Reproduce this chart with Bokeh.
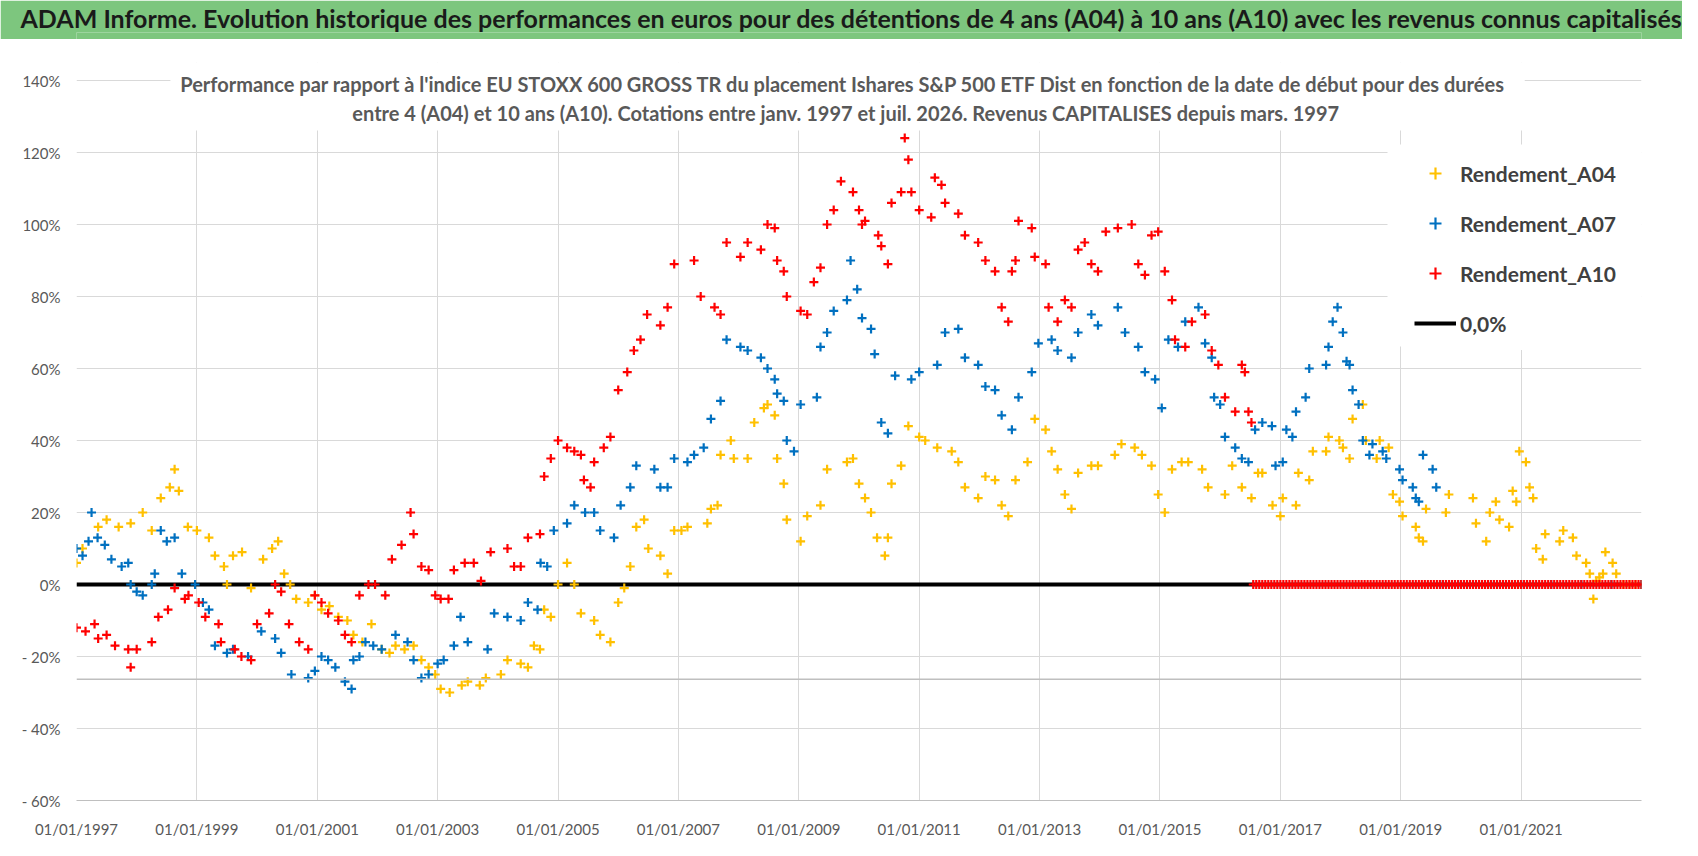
from bokeh.plotting import figure
from bokeh.models import Range1d, FixedTicker, Label, BoxAnnotation, Span, Legend, LegendItem, Title
from bokeh.layouts import column
from bokeh.embed import file_html
from bokeh.resources import INLINE

FONT = "Lato"

title_text = ("ADAM Informe. Evolution historique des performances en euros pour des détentions "
              "de 4 ans (A04) à 10 ans (A10) avec les revenus connus capitalisés")
subtitle_1 = ("Performance par rapport à l'indice EU STOXX 600 GROSS TR  du placement Ishares S&P 500 ETF Dist "
              "en fonction de la date de début pour des durées")
subtitle_2 = ("entre 4 (A04) et 10 ans (A10). Cotations entre janv. 1997 et juil. 2026. "
              "Revenus CAPITALISES depuis mars. 1997")

series_names = ["Rendement_A04", "Rendement_A07", "Rendement_A10"]
series_colors = ["#FFC000", "#0070C0", "#FF0000"]
zero_label = "0,0%"

x_tick_years = [1997, 1999, 2001, 2003, 2005, 2007, 2009, 2011, 2013, 2015, 2017, 2019, 2021]
x_tick_labels = ["01/01/1997", "01/01/1999", "01/01/2001", "01/01/2003", "01/01/2005", "01/01/2007",
                 "01/01/2009", "01/01/2011", "01/01/2013", "01/01/2015", "01/01/2017", "01/01/2019",
                 "01/01/2021"]
y_ticks = [-60, -40, -20, 0, 20, 40, 60, 80, 100, 120, 140]
y_tick_labels = ["- 60%", "- 40%", "- 20%", "0%", "20%", "40%", "60%", "80%", "100%", "120%", "140%"]

# (date as decimal year, performance in %)
a04 = [(1997.0, 6), (1997.1, 10), (1997.36, 16), (1997.5, 18), (1997.7, 16), (1997.9, 17), (1998.1, 20),
       (1998.25, 15), (1998.4, 24), (1998.55, 27), (1998.63, 32), (1998.7, 26), (1998.85, 16), (1999.0, 15),
       (1999.2, 13), (1999.3, 8), (1999.45, 5), (1999.5, 0), (1999.6, 8), (1999.75, 9), (1999.9, -1),
       (2000.1, 7), (2000.25, 10), (2000.35, 12), (2000.45, 3), (2000.55, 0), (2000.65, -4), (2000.85, -5),
       (2000.96, -3), (2001.07, -7), (2001.2, -6), (2001.35, -9), (2001.5, -10), (2001.6, -14), (2001.75, -16),
       (2001.9, -11), (2002.07, -18), (2002.2, -19), (2002.3, -17), (2002.45, -18), (2002.6, -17),
       (2002.73, -21), (2002.85, -23), (2002.96, -25), (2003.05, -29), (2003.2, -30), (2003.4, -28),
       (2003.5, -27), (2003.7, -28), (2003.8, -26), (2004.05, -25), (2004.16, -21), (2004.38, -22),
       (2004.5, -23), (2004.6, -17), (2004.7, -18), (2004.77, -7), (2004.88, -9), (2005.0, 0), (2005.15, 6),
       (2005.27, 0), (2005.38, -8), (2005.6, -10), (2005.7, -14), (2005.87, -16), (2006.0, -5), (2006.1, -1),
       (2006.2, 5), (2006.3, 16), (2006.43, 18), (2006.5, 10), (2006.7, 8), (2006.82, 3), (2006.93, 15),
       (2007.05, 15), (2007.15, 16), (2007.48, 17), (2007.54, 21), (2007.65, 22), (2007.7, 36), (2007.87, 40),
       (2007.92, 35), (2008.15, 35), (2008.26, 45), (2008.42, 49), (2008.48, 50), (2008.6, 47), (2008.64, 35),
       (2008.75, 28), (2008.8, 18), (2009.03, 12), (2009.14, 19), (2009.36, 22), (2009.47, 32), (2009.8, 34),
       (2009.9, 35), (2010.0, 28), (2010.1, 24), (2010.2, 20), (2010.3, 13), (2010.43, 8), (2010.48, 13),
       (2010.54, 28), (2010.7, 33), (2010.82, 44), (2011.0, 41), (2011.1, 40), (2011.3, 38), (2011.54, 37),
       (2011.65, 34), (2011.76, 27), (2011.98, 24), (2012.1, 30), (2012.26, 29), (2012.37, 22), (2012.48, 19),
       (2012.6, 29), (2012.8, 34), (2012.92, 46), (2013.1, 43), (2013.2, 37), (2013.3, 32), (2013.42, 25),
       (2013.53, 21), (2013.64, 31), (2013.86, 33), (2013.97, 33), (2014.25, 36), (2014.36, 39), (2014.58, 38),
       (2014.7, 36), (2014.86, 33), (2014.97, 25), (2015.08, 20), (2015.2, 32), (2015.36, 34), (2015.47, 34),
       (2015.7, 32), (2015.8, 27), (2016.08, 25), (2016.2, 33), (2016.36, 27), (2016.52, 24), (2016.63, 31),
       (2016.7, 31), (2016.87, 22), (2017.0, 19), (2017.04, 24), (2017.26, 22), (2017.3, 31), (2017.48, 29),
       (2017.54, 37), (2017.76, 37), (2017.8, 41), (2017.98, 40), (2018.04, 38), (2018.15, 35), (2018.2, 46),
       (2018.37, 50), (2018.42, 40), (2018.6, 35), (2018.65, 40), (2018.8, 38), (2018.87, 25), (2018.98, 23),
       (2019.03, 19), (2019.25, 16), (2019.3, 13), (2019.37, 12), (2019.42, 21), (2019.75, 20), (2019.8, 25),
       (2020.2, 24), (2020.25, 17), (2020.42, 12), (2020.48, 20), (2020.58, 23), (2020.64, 18), (2020.8, 16),
       (2020.86, 26), (2020.92, 23), (2020.97, 37), (2021.08, 34), (2021.14, 27), (2021.2, 24), (2021.25, 10),
       (2021.36, 7), (2021.4, 14), (2021.64, 12), (2021.7, 15), (2021.86, 13), (2021.92, 8), (2022.08, 6),
       (2022.14, 3), (2022.2, -4), (2022.25, 1), (2022.3, 2), (2022.36, 3), (2022.4, 9), (2022.52, 6),
       (2022.58, 3), (2022.7, 0), (2022.8, 0), (2022.9, 0), (2023.0, 0)]

a07 = [(1997.0, 10), (1997.1, 8), (1997.2, 12), (1997.25, 20), (1997.35, 13), (1997.47, 11), (1997.58, 7),
       (1997.75, 5), (1997.86, 6), (1997.9, 0), (1998.0, -2), (1998.1, -3), (1998.25, 0), (1998.3, 3),
       (1998.4, 15), (1998.5, 12), (1998.63, 13), (1998.75, 3), (1998.97, 0), (1999.1, -5), (1999.2, -7),
       (1999.3, -17), (1999.5, -19), (1999.6, -18), (1999.85, -20), (2000.07, -13), (2000.3, -15),
       (2000.4, -19), (2000.57, -25), (2000.85, -26), (2000.96, -24), (2001.07, -20), (2001.18, -21),
       (2001.3, -23), (2001.46, -27), (2001.57, -29), (2001.6, -21), (2001.7, -20), (2001.8, -16),
       (2001.93, -17), (2002.07, -18), (2002.3, -14), (2002.5, -16), (2002.6, -21), (2002.73, -26),
       (2002.85, -25), (2003.0, -22), (2003.1, -21), (2003.27, -17), (2003.38, -9), (2003.5, -16),
       (2003.83, -18), (2003.94, -8), (2004.16, -9), (2004.38, -10), (2004.5, -5), (2004.66, -7), (2004.71, 6),
       (2004.82, 5), (2004.93, 15), (2005.15, 17), (2005.27, 22), (2005.45, 20), (2005.6, 20), (2005.7, 15),
       (2005.93, 13), (2006.04, 22), (2006.2, 27), (2006.3, 33), (2006.6, 32), (2006.7, 27), (2006.82, 27),
       (2006.93, 35), (2007.15, 34), (2007.26, 36), (2007.42, 38), (2007.54, 46), (2007.7, 51), (2007.8, 68),
       (2008.03, 66), (2008.15, 65), (2008.37, 63), (2008.48, 60), (2008.6, 57), (2008.64, 53), (2008.75, 51),
       (2008.8, 40), (2008.92, 37), (2009.03, 50), (2009.3, 52), (2009.36, 66), (2009.47, 70), (2009.58, 76),
       (2009.8, 79), (2009.86, 90), (2009.97, 82), (2010.05, 74), (2010.2, 71), (2010.26, 64), (2010.37, 45),
       (2010.48, 42), (2010.6, 58), (2010.87, 57), (2011.0, 59), (2011.3, 61), (2011.43, 70), (2011.65, 71),
       (2011.76, 63), (2011.98, 61), (2012.1, 55), (2012.26, 54), (2012.37, 47), (2012.54, 43), (2012.65, 52),
       (2012.87, 59), (2012.98, 67), (2013.2, 68), (2013.3, 65), (2013.53, 63), (2013.64, 70), (2013.86, 75),
       (2013.97, 72), (2014.3, 77), (2014.42, 70), (2014.64, 66), (2014.75, 59), (2014.92, 57), (2015.03, 49),
       (2015.14, 68), (2015.3, 66), (2015.42, 73), (2015.64, 77), (2015.75, 67), (2015.86, 63), (2015.9, 52),
       (2016.0, 50), (2016.08, 41), (2016.25, 38), (2016.36, 35), (2016.47, 34), (2016.58, 43), (2016.7, 45),
       (2016.86, 44), (2016.92, 33), (2017.04, 34), (2017.1, 43), (2017.2, 41), (2017.26, 48), (2017.42, 52),
       (2017.48, 60), (2017.76, 61), (2017.8, 66), (2017.87, 73), (2017.95, 77), (2018.04, 70), (2018.1, 62),
       (2018.15, 61), (2018.2, 54), (2018.3, 50), (2018.37, 40), (2018.48, 36), (2018.53, 39), (2018.7, 37),
       (2018.76, 35), (2018.98, 32), (2019.03, 29), (2019.2, 27), (2019.25, 24), (2019.3, 23), (2019.37, 36),
       (2019.53, 32), (2019.59, 27), (2019.7, 0), (2020.0, 0), (2020.5, 0), (2021.0, 0), (2021.5, 0),
       (2022.0, 0), (2022.5, 0), (2023.0, 0)]

a10 = [(1997.0, -12), (1997.15, -13), (1997.3, -11), (1997.36, -15), (1997.5, -14), (1997.64, -17),
       (1997.86, -18), (1997.9, -23), (1998.0, -18), (1998.25, -16), (1998.36, -9), (1998.52, -7),
       (1998.63, -1), (1998.8, -4), (1998.86, -3), (1999.03, -5), (1999.14, -9), (1999.36, -11), (1999.4, -16),
       (1999.63, -18), (1999.74, -20), (1999.9, -21), (2000.0, -11), (2000.2, -8), (2000.3, 0), (2000.4, -2),
       (2000.53, -11), (2000.7, -16), (2000.85, -18), (2000.96, -3), (2001.07, -5), (2001.18, -8),
       (2001.35, -10), (2001.46, -14), (2001.57, -16), (2001.7, -3), (2001.85, 0), (2001.96, 0), (2002.13, -3),
       (2002.24, 7), (2002.4, 11), (2002.55, 20), (2002.6, 14), (2002.73, 5), (2002.85, 4), (2002.96, -3),
       (2003.05, -4), (2003.18, -4), (2003.27, 4), (2003.45, 6), (2003.6, 6), (2003.72, 1), (2003.88, 9),
       (2004.16, 10), (2004.27, 5), (2004.38, 5), (2004.5, 13), (2004.7, 14), (2004.77, 30), (2004.88, 35),
       (2005.0, 40), (2005.15, 38), (2005.27, 37), (2005.38, 36), (2005.43, 29), (2005.54, 27), (2005.6, 34),
       (2005.76, 38), (2005.87, 41), (2006.0, 54), (2006.15, 59), (2006.26, 65), (2006.37, 68), (2006.48, 75),
       (2006.7, 72), (2006.82, 77), (2006.93, 89), (2007.26, 90), (2007.37, 80), (2007.6, 77), (2007.7, 75),
       (2007.8, 95), (2008.03, 91), (2008.15, 95), (2008.37, 93), (2008.48, 100), (2008.6, 99), (2008.64, 90),
       (2008.75, 87), (2008.8, 80), (2009.03, 76), (2009.14, 75), (2009.25, 84), (2009.36, 88), (2009.47, 100),
       (2009.58, 104), (2009.7, 112), (2009.9, 109), (2010.0, 104), (2010.05, 100), (2010.1, 101),
       (2010.32, 97), (2010.37, 94), (2010.48, 89), (2010.54, 106), (2010.7, 109), (2010.76, 124),
       (2010.82, 118), (2010.87, 109), (2011.0, 104), (2011.2, 102), (2011.26, 113), (2011.37, 111),
       (2011.43, 106), (2011.65, 103), (2011.76, 97), (2011.98, 95), (2012.1, 90), (2012.26, 87), (2012.37, 77),
       (2012.48, 73), (2012.54, 87), (2012.6, 90), (2012.65, 101), (2012.87, 99), (2012.92, 91), (2013.1, 89),
       (2013.15, 77), (2013.3, 73), (2013.42, 79), (2013.53, 77), (2013.64, 93), (2013.75, 95), (2013.86, 89),
       (2013.97, 87), (2014.1, 98), (2014.3, 99), (2014.53, 100), (2014.64, 89), (2014.75, 86), (2014.86, 97),
       (2014.97, 98), (2015.08, 87), (2015.2, 79), (2015.25, 68), (2015.42, 66), (2015.53, 73), (2015.75, 75),
       (2015.86, 65), (2015.97, 61), (2016.08, 52), (2016.25, 48), (2016.36, 61), (2016.41, 59), (2016.47, 48),
       (2016.52, 45),
       (2016.55, 0), (2016.6, 0), (2016.65, 0), (2016.7, 0), (2016.75, 0), (2016.8, 0), (2016.85, 0),
       (2016.9, 0), (2016.95, 0), (2017.0, 0), (2017.05, 0), (2017.1, 0), (2017.15, 0), (2017.2, 0),
       (2017.25, 0), (2017.3, 0), (2017.35, 0), (2017.4, 0), (2017.45, 0), (2017.5, 0), (2017.55, 0),
       (2017.6, 0), (2017.65, 0), (2017.7, 0), (2017.75, 0), (2017.8, 0), (2017.85, 0), (2017.9, 0),
       (2017.95, 0), (2018.0, 0), (2018.05, 0), (2018.1, 0), (2018.15, 0), (2018.2, 0), (2018.25, 0),
       (2018.3, 0), (2018.35, 0), (2018.4, 0), (2018.45, 0), (2018.5, 0), (2018.55, 0), (2018.6, 0),
       (2018.65, 0), (2018.7, 0), (2018.75, 0), (2018.8, 0), (2018.85, 0), (2018.9, 0), (2018.95, 0),
       (2019.0, 0), (2019.05, 0), (2019.1, 0), (2019.15, 0), (2019.2, 0), (2019.25, 0), (2019.3, 0),
       (2019.35, 0), (2019.4, 0), (2019.45, 0), (2019.5, 0), (2019.55, 0), (2019.6, 0), (2019.65, 0),
       (2019.7, 0), (2019.75, 0), (2019.8, 0), (2019.85, 0), (2019.9, 0), (2019.95, 0), (2020.0, 0),
       (2020.05, 0), (2020.1, 0), (2020.15, 0), (2020.2, 0), (2020.25, 0), (2020.3, 0), (2020.35, 0),
       (2020.4, 0), (2020.45, 0), (2020.5, 0), (2020.55, 0), (2020.6, 0), (2020.65, 0), (2020.7, 0),
       (2020.75, 0), (2020.8, 0), (2020.85, 0), (2020.9, 0), (2020.95, 0), (2021.0, 0), (2021.05, 0),
       (2021.1, 0), (2021.15, 0), (2021.2, 0), (2021.25, 0), (2021.3, 0), (2021.35, 0), (2021.4, 0),
       (2021.45, 0), (2021.5, 0), (2021.55, 0), (2021.6, 0), (2021.65, 0), (2021.7, 0), (2021.75, 0),
       (2021.8, 0), (2021.85, 0), (2021.9, 0), (2021.95, 0), (2022.0, 0), (2022.05, 0), (2022.1, 0),
       (2022.15, 0), (2022.2, 0), (2022.25, 0), (2022.3, 0), (2022.35, 0), (2022.4, 0), (2022.45, 0),
       (2022.5, 0), (2022.55, 0), (2022.6, 0), (2022.65, 0), (2022.7, 0), (2022.75, 0), (2022.8, 0),
       (2022.85, 0), (2022.9, 0), (2022.95, 0), (2023.0, 0)]

zero_x = [1997.0, 2023.0]
zero_y = [0.0, 0.0]

# ---------------- header bar (title in its own panel so it is not clipped to the frame) ----------------
GREEN = "#7DC67E"
header = figure(width=1682, height=39, x_range=Range1d(0, 1), y_range=Range1d(0, 1),
                output_backend="svg", toolbar_location=None, min_border=0, min_border_top=8,
                background_fill_color=GREEN, border_fill_color=GREEN, outline_line_color=None)
header.axis.visible = False
header.grid.visible = False
header.add_layout(Title(text=title_text, align="left", offset=-56, standoff=0,
                        text_font=FONT, text_font_size="25px", text_font_style="bold",
                        text_color="#1a1a1a"), "above")

# ---------------- main chart ----------------
# frame: 3.6 px per percent; the top 5 % above 140 % hold the overlaid chart title
p = figure(width=1682, height=808, x_range=Range1d(1997.0, 2023.0), y_range=Range1d(-60, 145),
           output_backend="svg", toolbar_location=None,
           min_border_left=76, min_border_right=41, min_border_top=23, min_border_bottom=47,
           background_fill_color="white", border_fill_color="white", outline_line_color=None)

p.xaxis.ticker = FixedTicker(ticks=x_tick_years)
p.xaxis.major_label_overrides = {k: v for k, v in zip(x_tick_years, x_tick_labels)}
p.yaxis.ticker = FixedTicker(ticks=y_ticks)
p.yaxis.major_label_overrides = {k: v for k, v in zip(y_ticks, y_tick_labels)}
for ax in (p.xaxis[0], p.yaxis[0]):
    ax.major_tick_in = 0
    ax.major_tick_out = 0
    ax.minor_tick_in = 0
    ax.minor_tick_out = 0
    ax.major_label_text_font = FONT
    ax.major_label_text_font_size = "15px"
    ax.major_label_text_color = "#595959"
p.xaxis.axis_line_color = "#bfbfbf"
p.yaxis.axis_line_color = None
p.xaxis.major_label_standoff = 19
p.yaxis.major_label_standoff = 16
p.xgrid.grid_line_color = "#d9d9d9"
p.ygrid.grid_line_color = "#d9d9d9"

p.add_layout(Span(location=-26.3, dimension="width", line_color="#bfbfbf", line_width=1.5))

# white backgrounds: above the 140 % line, behind the overlaid chart title and behind the legend
p.add_layout(BoxAnnotation(left=1996.8, right=2023.2, bottom=140.2, top=146, fill_color="white",
                           fill_alpha=1, line_alpha=0, level="underlay"))
p.add_layout(BoxAnnotation(left=1998.56, right=2021.06, bottom=126.1, top=141, fill_color="white",
                           fill_alpha=1, line_alpha=0, level="underlay"))
p.add_layout(BoxAnnotation(left=2018.78, right=2023.2, bottom=66.1, top=122.2, fill_color="white",
                           fill_alpha=1, line_alpha=0, level="underlay"))

zero_r = p.line(zero_x, zero_y, line_color="black", line_width=4)

renderers = []
for data, color in zip([a04, a07, a10], series_colors):
    xs = [d for d, _ in data]
    ys = [v for _, v in data]
    r = p.scatter(xs, ys, marker="cross", size=9, line_width=2.2, color=color)
    renderers.append(r)

p.add_layout(Label(x=2009.78, y=138.9, text=subtitle_1, text_align="center", text_baseline="middle",
                   text_font=FONT, text_font_size="20px", text_font_style="bold", text_color="#595959"))
p.add_layout(Label(x=2009.78, y=130.9, text=subtitle_2, text_align="center", text_baseline="middle",
                   text_font=FONT, text_font_size="20px", text_font_style="bold", text_color="#595959"))

items = [LegendItem(label=n, renderers=[r]) for n, r in zip(series_names, renderers)]
items.append(LegendItem(label=zero_label, renderers=[zero_r]))
legend = Legend(items=items, location=(1326, 450), padding=12, spacing=20,
                label_height=30, glyph_height=30, glyph_width=42, label_standoff=4,
                label_text_font=FONT, label_text_font_size="21px", label_text_font_style="bold",
                label_text_color="#404040", background_fill_color="white", background_fill_alpha=1,
                border_line_alpha=0)
p.add_layout(legend)

layout = column(header, p, spacing=0)
open("out.html", "w").write(file_html(layout, INLINE))
